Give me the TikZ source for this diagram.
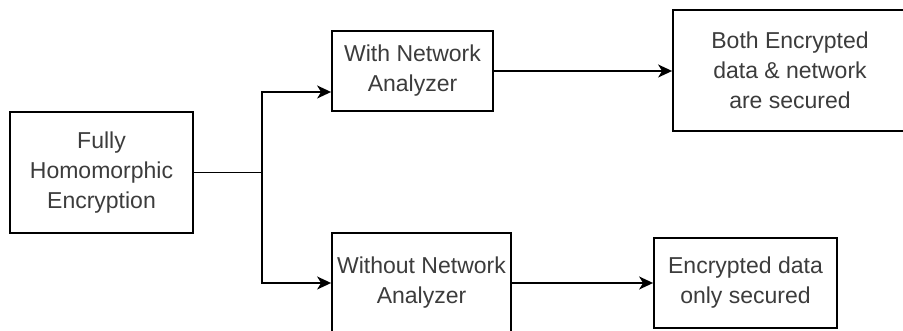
\documentclass[tikz,border=0pt]{standalone}
\usepackage{fontspec}
\setmainfont{Liberation Sans}
\usetikzlibrary{arrows.meta}
\definecolor{txt}{HTML}{3C3C3C}
\tikzset{
  box/.style={draw=black, line width=1.8pt, fill=white, align=center, text=txt,
    font=\fontsize{23}{30}\selectfont, inner sep=0pt},
  arr/.style={draw=black, line width=1.8pt, -{Stealth[length=14pt,width=13pt,inset=4pt]}},
}
\begin{document}
\begin{tikzpicture}[x=1pt,y=-1pt]
\useasboundingbox (0,0) rectangle (903,331);
\clip (0,0) rectangle (903,331);
\node[box, minimum width=183pt, minimum height=121pt] (fhe) at (101.5,172.5) {Fully\\Homomorphic\\Encryption};
\node[box, minimum width=161pt, minimum height=80pt] (with) at (412.5,71) {With Network\\Analyzer};
\node[box, minimum width=234pt, minimum height=121pt] (both) at (790,70.5) {Both Encrypted\\data \& network\\are secured};
\node[box, minimum width=179pt, minimum height=100pt] (without) at (421.5,283) {Without Network\\Analyzer};
\node[box, minimum width=183pt, minimum height=90pt] (enc) at (745.5,283) {Encrypted data\\only secured};
\coordinate (split) at (262,172.5);
\draw[line width=1.8pt] (fhe.east) -- (split);
\draw[arr] (split) |- ([yshift=-21pt]with.west);
\draw[arr] (split) |- (without.west);
\draw[arr] (with.east) -- (with.east -| both.west);
\draw[arr] (without.east) -- (enc.west);
\end{tikzpicture}
\end{document}
